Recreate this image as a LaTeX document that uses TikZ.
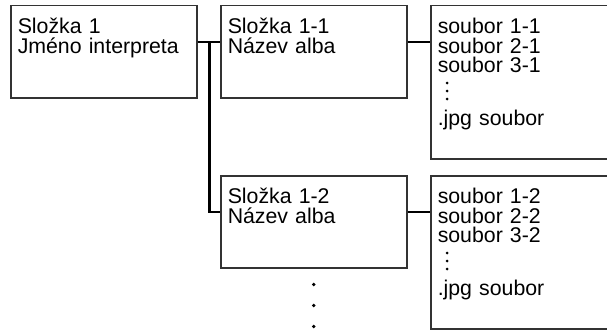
\documentclass[tikz,border=0pt]{standalone}
\usepackage{fontspec}
\setmainfont{Liberation Sans}
\begin{document}
\begin{tikzpicture}[
        x=1pt, y=-1pt,
        folder/.style={draw=black!80, line width=1.5pt, anchor=north west, inner xsep=7pt, inner ysep=0pt,
            text width=172pt, align=left, text height=28pt, text depth=64pt, font=\fontsize{21.3}{19.5}\selectfont},
        filelist/.style={folder, text width=170pt, text depth=125pt},
        link/.style={line width=2.2pt, black}
    ]
        \clip (0,0) rectangle (607,329);

        % Folders
        \node[folder] (artist) at (10,5) {Složka 1\\Jméno interpreta};
        \node[folder] (album1) at (220,5) {Složka 1-1\\Název alba};
        \node[folder] (album2) at (220,175) {Složka 1-2\\Název alba};

        % File lists
        \node[filelist] (files1) at (430,5) {soubor 1-1\\soubor 2-1\\soubor 3-1\\[33pt].jpg soubor};
        \node[filelist] (files2) at (430,175) {soubor 1-2\\soubor 2-2\\soubor 3-2\\[33pt].jpg soubor};

        % Links
        \draw[link] ([yshift=10pt]artist.east) -- ([yshift=10pt]album1.west);
        \draw[link] ([yshift=10pt]artist.east) -- ++(12,0) |- ([yshift=10pt]album2.west);
        \draw[link] ([yshift=10pt]album1.east) -- ([yshift=10pt]album1.east -| files1.west);
        \draw[link] ([yshift=10pt]album2.east) -- ([yshift=10pt]album2.east -| files2.west);

        % Dots
        \foreach \f in {files1,files2}
            \foreach \d in {78,86,94}
                \fill ([shift={(17pt,-\d pt)}]\f.north west) circle (1.5pt);
        \foreach \d in {16,37,58}
            \fill ([yshift=-\d pt]album2.south) circle (1.8pt);
    \end{tikzpicture}
\end{document}
